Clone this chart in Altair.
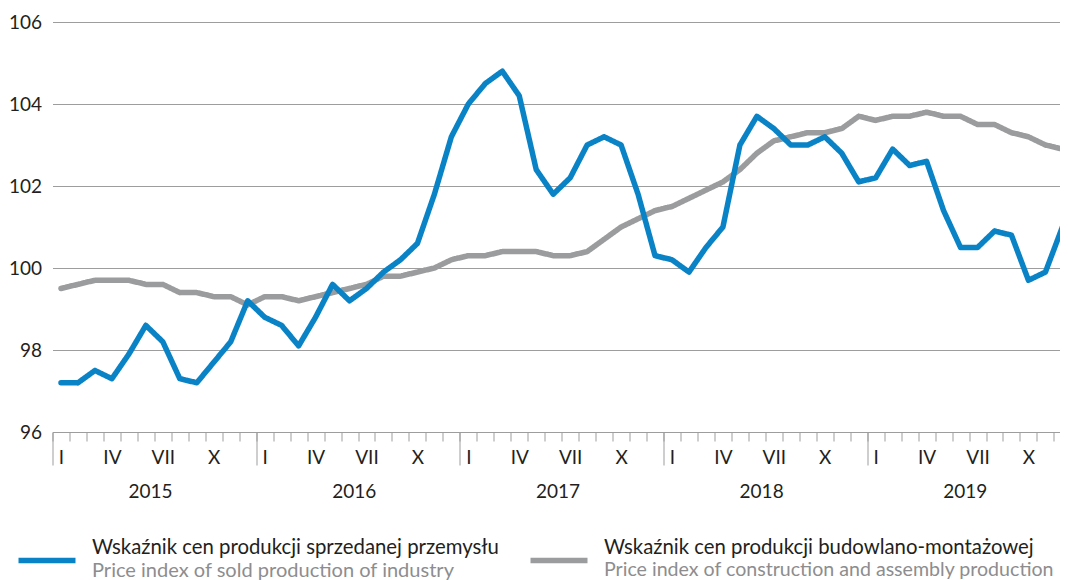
import altair as alt
import pandas as pd

years = [2015, 2016, 2017, 2018, 2019]
month_labels = ["I", "II", "III", "IV", "V", "VI", "VII", "VIII", "IX", "X", "XI", "XII"]

industry = [
    97.2, 97.2, 97.5, 97.3, 97.9, 98.6, 98.2, 97.3, 97.2, 97.7, 98.2, 99.2,
    98.8, 98.6, 98.1, 98.8, 99.6, 99.2, 99.5, 99.9, 100.2, 100.6, 101.8, 103.2,
    104.0, 104.5, 104.8, 104.2, 102.4, 101.8, 102.2, 103.0, 103.2, 103.0, 101.8, 100.3,
    100.2, 99.9, 100.5, 101.0, 103.0, 103.7, 103.4, 103.0, 103.0, 103.2, 102.8, 102.1,
    102.2, 102.9, 102.5, 102.6, 101.4, 100.5, 100.5, 100.9, 100.8, 99.7, 99.9, 101.0,
]
construction = [
    99.5, 99.6, 99.7, 99.7, 99.7, 99.6, 99.6, 99.4, 99.4, 99.3, 99.3, 99.1,
    99.3, 99.3, 99.2, 99.3, 99.4, 99.5, 99.6, 99.8, 99.8, 99.9, 100.0, 100.2,
    100.3, 100.3, 100.4, 100.4, 100.4, 100.3, 100.3, 100.4, 100.7, 101.0, 101.2, 101.4,
    101.5, 101.7, 101.9, 102.1, 102.4, 102.8, 103.1, 103.2, 103.3, 103.3, 103.4, 103.7,
    103.6, 103.7, 103.7, 103.8, 103.7, 103.7, 103.5, 103.5, 103.3, 103.2, 103.0, 102.9,
]

pl_names = ["Wskaźnik cen produkcji sprzedanej przemysłu",
            "Wskaźnik cen produkcji budowlano-montażowej"]
en_names = ["Price index of sold production of industry",
            "Price index of construction and assembly production"]
line_colors = ["#0a83c6", "#9b9c9e"]
y_ticks = [96, 98, 100, 102, 104, 106]

FONT = "Lato"
DARK = "#231f20"
SOFT = "#8d8d8f"
GRID = "#9d9d9d"

rows = []
for k, vals in [(1, construction), (0, industry)]:  # gray drawn first, blue on top
    for i, v in enumerate(vals):
        rows.append({"t": i, "value": v, "pl": pl_names[k], "en": en_names[k],
                     "kw": f"w{k}", "kd": f"d{k}"})
df = pd.DataFrame(rows)

n = len(industry)
PLOT_W = 1007.5
STEP = 16.973
x_scale = alt.Scale(domain=[-0.5, -0.5 + PLOT_W / STEP], nice=False, zero=False)
y_scale = alt.Scale(domain=[96, 106], nice=False, zero=False)

y_axis = alt.Axis(values=y_ticks, grid=True, gridColor=GRID, gridWidth=1,
                  domain=False, ticks=False, labelPadding=11, orient="left",
                  labelFont=FONT, labelFontSize=19, labelColor=DARK, title=None)

SYM = 3249
LW = 5.5
leg_common = dict(orient="none", direction="horizontal", title=None, padding=0,
                  symbolSize=SYM, symbolType="stroke", labelFont=FONT,
                  labelLimit=1000, labelOffset=13.5, symbolStrokeWidth=LW)
LX1, LX2 = -37, 475
LY_PL, LY_EN = 504, 507

month_ticks = [i - 0.5 for i in range(n)]
year_ticks = [12 * j - 0.5 for j in range(len(years))]
month_label_vals = [i for i in range(n) if i % 3 == 0]
year_label_vals = [12 * j + 5.25 for j in range(len(years))]

base = alt.Chart(df)

lines = base.mark_line(strokeJoin="round", strokeCap="round").encode(
    x=alt.X("t:Q", scale=x_scale,
            axis=alt.Axis(values=month_ticks, orient="bottom", labels=False, ticks=True,
                          tickSize=9, tickColor=GRID, tickWidth=1, domain=False,
                          grid=False, title=None)),
    y=alt.Y("value:Q", scale=y_scale, axis=y_axis),
    color=alt.Color("pl:N", scale=alt.Scale(domain=pl_names, range=line_colors),
                    legend=alt.Legend(values=[pl_names[0]], legendX=LX1, legendY=LY_PL,
                                      labelBaseline="bottom", labelColor=DARK,
                                      labelFontSize=20.35,
                                      symbolOpacity=0, **leg_common)),
    strokeWidth=alt.StrokeWidth("kw:N", scale=alt.Scale(domain=["w0", "w1"], range=[LW, LW]),
                                legend=alt.Legend(values=["w1"], legendX=LX2, legendY=LY_PL,
                                                  labelExpr=f"'{pl_names[1]}'",
                                                  labelBaseline="bottom", labelColor=DARK,
                                                  labelFontSize=20.35,
                                                  symbolStrokeColor="transparent",
                                                  symbolOpacity=0, **leg_common)),
    opacity=alt.Opacity("en:N", scale=alt.Scale(domain=en_names, range=[1, 1]),
                        legend=alt.Legend(values=[en_names[0]], legendX=LX1, legendY=LY_EN,
                                          labelBaseline="top", labelColor=SOFT,
                                          labelFontSize=20.05,
                                          symbolStrokeColor=line_colors[0], **leg_common)),
    strokeDash=alt.StrokeDash("kd:N", scale=alt.Scale(domain=["d0", "d1"], range=[[1, 0], [1, 0]]),
                              legend=alt.Legend(values=["d1"], legendX=LX2, legendY=LY_EN,
                                                labelExpr=f"'{en_names[1]}'",
                                                labelBaseline="top", labelColor=SOFT,
                                                labelFontSize=19.6,
                                                symbolStrokeColor=line_colors[1], **leg_common)),
    detail="pl:N",
)

def ghost(axis):
    return base.mark_point(opacity=0, size=1).encode(
        x=alt.X("t:Q", scale=x_scale, axis=axis),
        y=alt.Y("value:Q", scale=y_scale, axis=y_axis),
    )

year_tick_layer = ghost(alt.Axis(values=year_ticks, orient="bottom", labels=False, ticks=True,
                                 tickSize=33, tickColor=GRID, tickWidth=1, domain=False,
                                 grid=False, title=None))
month_label_layer = ghost(alt.Axis(values=month_label_vals, orient="bottom", ticks=False,
                                   tickSize=0, domain=False, grid=False, title=None,
                                   labelExpr=f"{month_labels}[datum.value % 12]",
                                   labelPadding=31, labelBaseline="alphabetic",
                                   labelFlush=False, labelOverlap=False,
                                   labelFont=FONT, labelFontSize=19, labelColor=DARK))
year_label_layer = ghost(alt.Axis(values=year_label_vals, orient="bottom", ticks=False,
                                  tickSize=0, domain=False, grid=False, title=None,
                                  labelExpr=f"{years}[floor(datum.value / 12)]",
                                  labelPadding=65.5, labelBaseline="alphabetic",
                                  labelFlush=False, labelOverlap=False,
                                  labelFont=FONT, labelFontSize=19, labelColor=DARK))

chart = alt.layer(lines, year_tick_layer, month_label_layer, year_label_layer).resolve_axis(
    x="independent", y="shared"
).properties(
    width=PLOT_W, height=410, autosize=alt.AutoSizeParams(type="none"),
    padding={"left": 44.5, "top": 14, "right": 0, "bottom": 148},
).configure(font=FONT).configure_view(stroke=None)

chart.save("out.html", embed_options={"renderer": "svg", "actions": False})
